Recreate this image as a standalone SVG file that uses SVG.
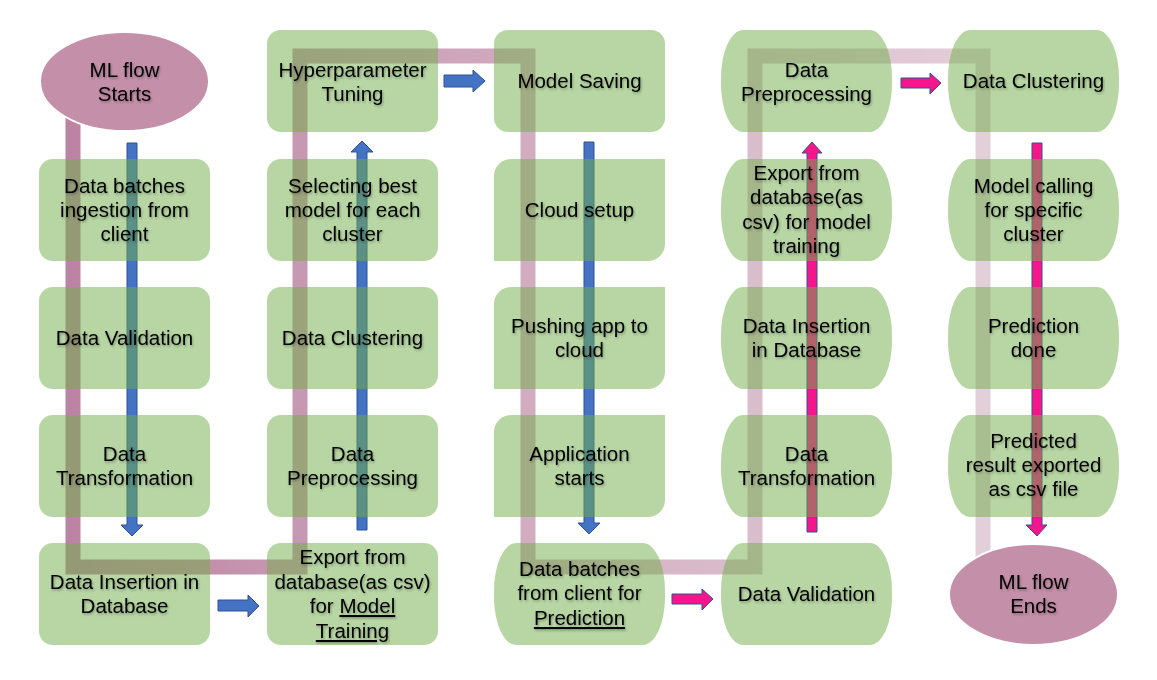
<svg xmlns="http://www.w3.org/2000/svg" width="1157" height="680" viewBox="0 0 1157 680">
<defs>
<linearGradient id="flowGrad" gradientUnits="userSpaceOnUse" x1="73" y1="0" x2="983" y2="0">
<stop offset="0" stop-color="#BC84A2"/>
<stop offset="0.5" stop-color="#D2ACC0"/>
<stop offset="1" stop-color="#E3CFD9"/>
</linearGradient>
<filter id="tshadow" x="-10%" y="-30%" width="120%" height="160%">
<feDropShadow dx="1" dy="1.5" stdDeviation="1" flood-color="#000" flood-opacity="0.3"/>
</filter>
</defs>
<style>
.box{fill:#70AD47;fill-opacity:0.5}
.term{fill:#C48FA9;stroke:#fff;stroke-width:2}
.blue{fill:#4472C4;stroke:#2F528F;stroke-width:1}
.mag{fill:#F5168C;stroke:#2F528F;stroke-width:1}
.flow{fill:none;stroke:url(#flowGrad);stroke-width:15;stroke-linejoin:miter;stroke-linecap:butt}
text{font-family:"Liberation Sans",Arial,sans-serif;font-size:20.5px;fill:#000;text-anchor:middle;filter:url(#tshadow)}
.u{text-decoration:underline}
</style>
<rect width="1157" height="680" fill="#fff"/>
<g id="connectors">
<path class="flow" d="M73,118 V567 H300 V56 H528 V567 H755 V56 H983 V560"/>
<polygon class="blue" points="127,143 137,143 137,525 143,525 132,536 121,525 127,525"/>
<polygon class="blue" points="357,530 367,530 367,152 373,152 362,141 351,152 357,152"/>
<polygon class="blue" points="584,142 594,142 594,523 600,523 589,534 578,523 584,523"/>
<polygon class="blue" points="218,600 248,600 248,595 259,606 248,617 248,611 218,611"/>
<polygon class="blue" points="444,75 473,75 473,70 485,81 473,92 473,87 444,87"/>
<polygon class="mag" points="672,594 702,594 702,589 713,599 702,610 702,604 672,604"/>
<polygon class="mag" points="807,532 817,532 817,153 822,153 812,142 802,153 807,153"/>
<polygon class="mag" points="901,78 930,78 930,73 941,83 930,94 930,88 901,88"/>
<polygon class="mag" points="1032,143 1042,143 1042,525 1047,525 1037,536 1026,525 1032,525"/>
</g>
<g id="n-start"><ellipse class="term" cx="124.5" cy="81.5" rx="84.5" ry="49.5"/><text x="124.5" y="77">ML flow</text><text x="124.5" y="101">Starts</text></g>
<g id="n-c1r2"><rect class="box" x="39" y="159" width="171" height="102" rx="14"/><text x="124.5" y="193">Data batches</text><text x="124.5" y="217">ingestion from</text><text x="124.5" y="241">client</text></g>
<g id="n-c1r3"><rect class="box" x="39" y="287" width="171" height="102" rx="14"/><text x="124.5" y="345">Data Validation</text></g>
<g id="n-c1r4"><rect class="box" x="39" y="415" width="171" height="102" rx="14"/><text x="124.5" y="461">Data</text><text x="124.5" y="485">Transformation</text></g>
<g id="n-c1r5"><rect class="box" x="39" y="543" width="171" height="102" rx="14"/><text x="124.5" y="589">Data Insertion in</text><text x="124.5" y="613">Database</text></g>
<g id="n-c2r1"><rect class="box" x="267" y="30" width="171" height="102" rx="14"/><text x="352.5" y="77">Hyperparameter</text><text x="352.5" y="101">Tuning</text></g>
<g id="n-c2r2"><rect class="box" x="267" y="159" width="171" height="102" rx="14"/><text x="352.5" y="193">Selecting best</text><text x="352.5" y="217">model for each</text><text x="352.5" y="241">cluster</text></g>
<g id="n-c2r3"><rect class="box" x="267" y="287" width="171" height="102" rx="14"/><text x="352.5" y="345">Data Clustering</text></g>
<g id="n-c2r4"><rect class="box" x="267" y="415" width="171" height="102" rx="14"/><text x="352.5" y="461">Data</text><text x="352.5" y="485">Preprocessing</text></g>
<g id="n-c2r5"><rect class="box" x="267" y="543" width="171" height="102" rx="14"/><text x="352.5" y="564">Export from</text><text x="352.5" y="589">database(as csv)</text><text x="352.5" y="613">for <tspan class="u">Model</tspan></text><text x="352.5" y="638" class="u">Training</text></g>
<g id="n-c3r1"><rect class="box" x="494" y="30" width="171" height="102" rx="14"/><text x="579.5" y="88">Model Saving</text></g>
<g id="n-c3r2"><path class="box" d="M511,159 H665 V244 A17,17 0 0 1 648,261 H494 V176 A17,17 0 0 1 511,159 Z"/><text x="579.5" y="217">Cloud setup</text></g>
<g id="n-c3r3"><path class="box" d="M511,287 H665 V372 A17,17 0 0 1 648,389 H494 V304 A17,17 0 0 1 511,287 Z"/><text x="579.5" y="333">Pushing app to</text><text x="579.5" y="357">cloud</text></g>
<g id="n-c3r4"><path class="box" d="M511,415 H665 V500 A17,17 0 0 1 648,517 H494 V432 A17,17 0 0 1 511,415 Z"/><text x="579.5" y="461">Application</text><text x="579.5" y="485">starts</text></g>
<g id="n-c3r5"><rect class="box" x="494" y="543" width="171" height="102" rx="22" ry="48"/><text x="579.5" y="576">Data batches</text><text x="579.5" y="600">from client for</text><text x="579.5" y="625" class="u">Prediction</text></g>
<g id="n-c4r1"><rect class="box" x="721" y="30" width="171" height="102" rx="22" ry="48"/><text x="806.5" y="77">Data</text><text x="806.5" y="101">Preprocessing</text></g>
<g id="n-c4r2"><rect class="box" x="721" y="159" width="171" height="102" rx="22" ry="48"/><text x="806.5" y="180">Export from</text><text x="806.5" y="204">database(as</text><text x="806.5" y="229">csv) for model</text><text x="806.5" y="253">training</text></g>
<g id="n-c4r3"><rect class="box" x="721" y="287" width="171" height="102" rx="22" ry="48"/><text x="806.5" y="333">Data Insertion</text><text x="806.5" y="357">in Database</text></g>
<g id="n-c4r4"><rect class="box" x="721" y="415" width="171" height="102" rx="22" ry="48"/><text x="806.5" y="461">Data</text><text x="806.5" y="485">Transformation</text></g>
<g id="n-c4r5"><rect class="box" x="721" y="543" width="171" height="102" rx="22" ry="48"/><text x="806.5" y="601">Data Validation</text></g>
<g id="n-c5r1"><rect class="box" x="948" y="30" width="171" height="102" rx="22" ry="48"/><text x="1033.5" y="88">Data Clustering</text></g>
<g id="n-c5r2"><rect class="box" x="948" y="159" width="171" height="102" rx="22" ry="48"/><text x="1033.5" y="193">Model calling</text><text x="1033.5" y="217">for specific</text><text x="1033.5" y="241">cluster</text></g>
<g id="n-c5r3"><rect class="box" x="948" y="287" width="171" height="102" rx="22" ry="48"/><text x="1033.5" y="333">Prediction</text><text x="1033.5" y="357">done</text></g>
<g id="n-c5r4"><rect class="box" x="948" y="415" width="171" height="102" rx="22" ry="48"/><text x="1033.5" y="448">Predicted</text><text x="1033.5" y="472">result exported</text><text x="1033.5" y="496">as csv file</text></g>
<g id="n-end"><ellipse class="term" cx="1033.5" cy="594.5" rx="84.5" ry="50.5"/><text x="1033.5" y="589">ML flow</text><text x="1033.5" y="613">Ends</text></g>
</svg>
